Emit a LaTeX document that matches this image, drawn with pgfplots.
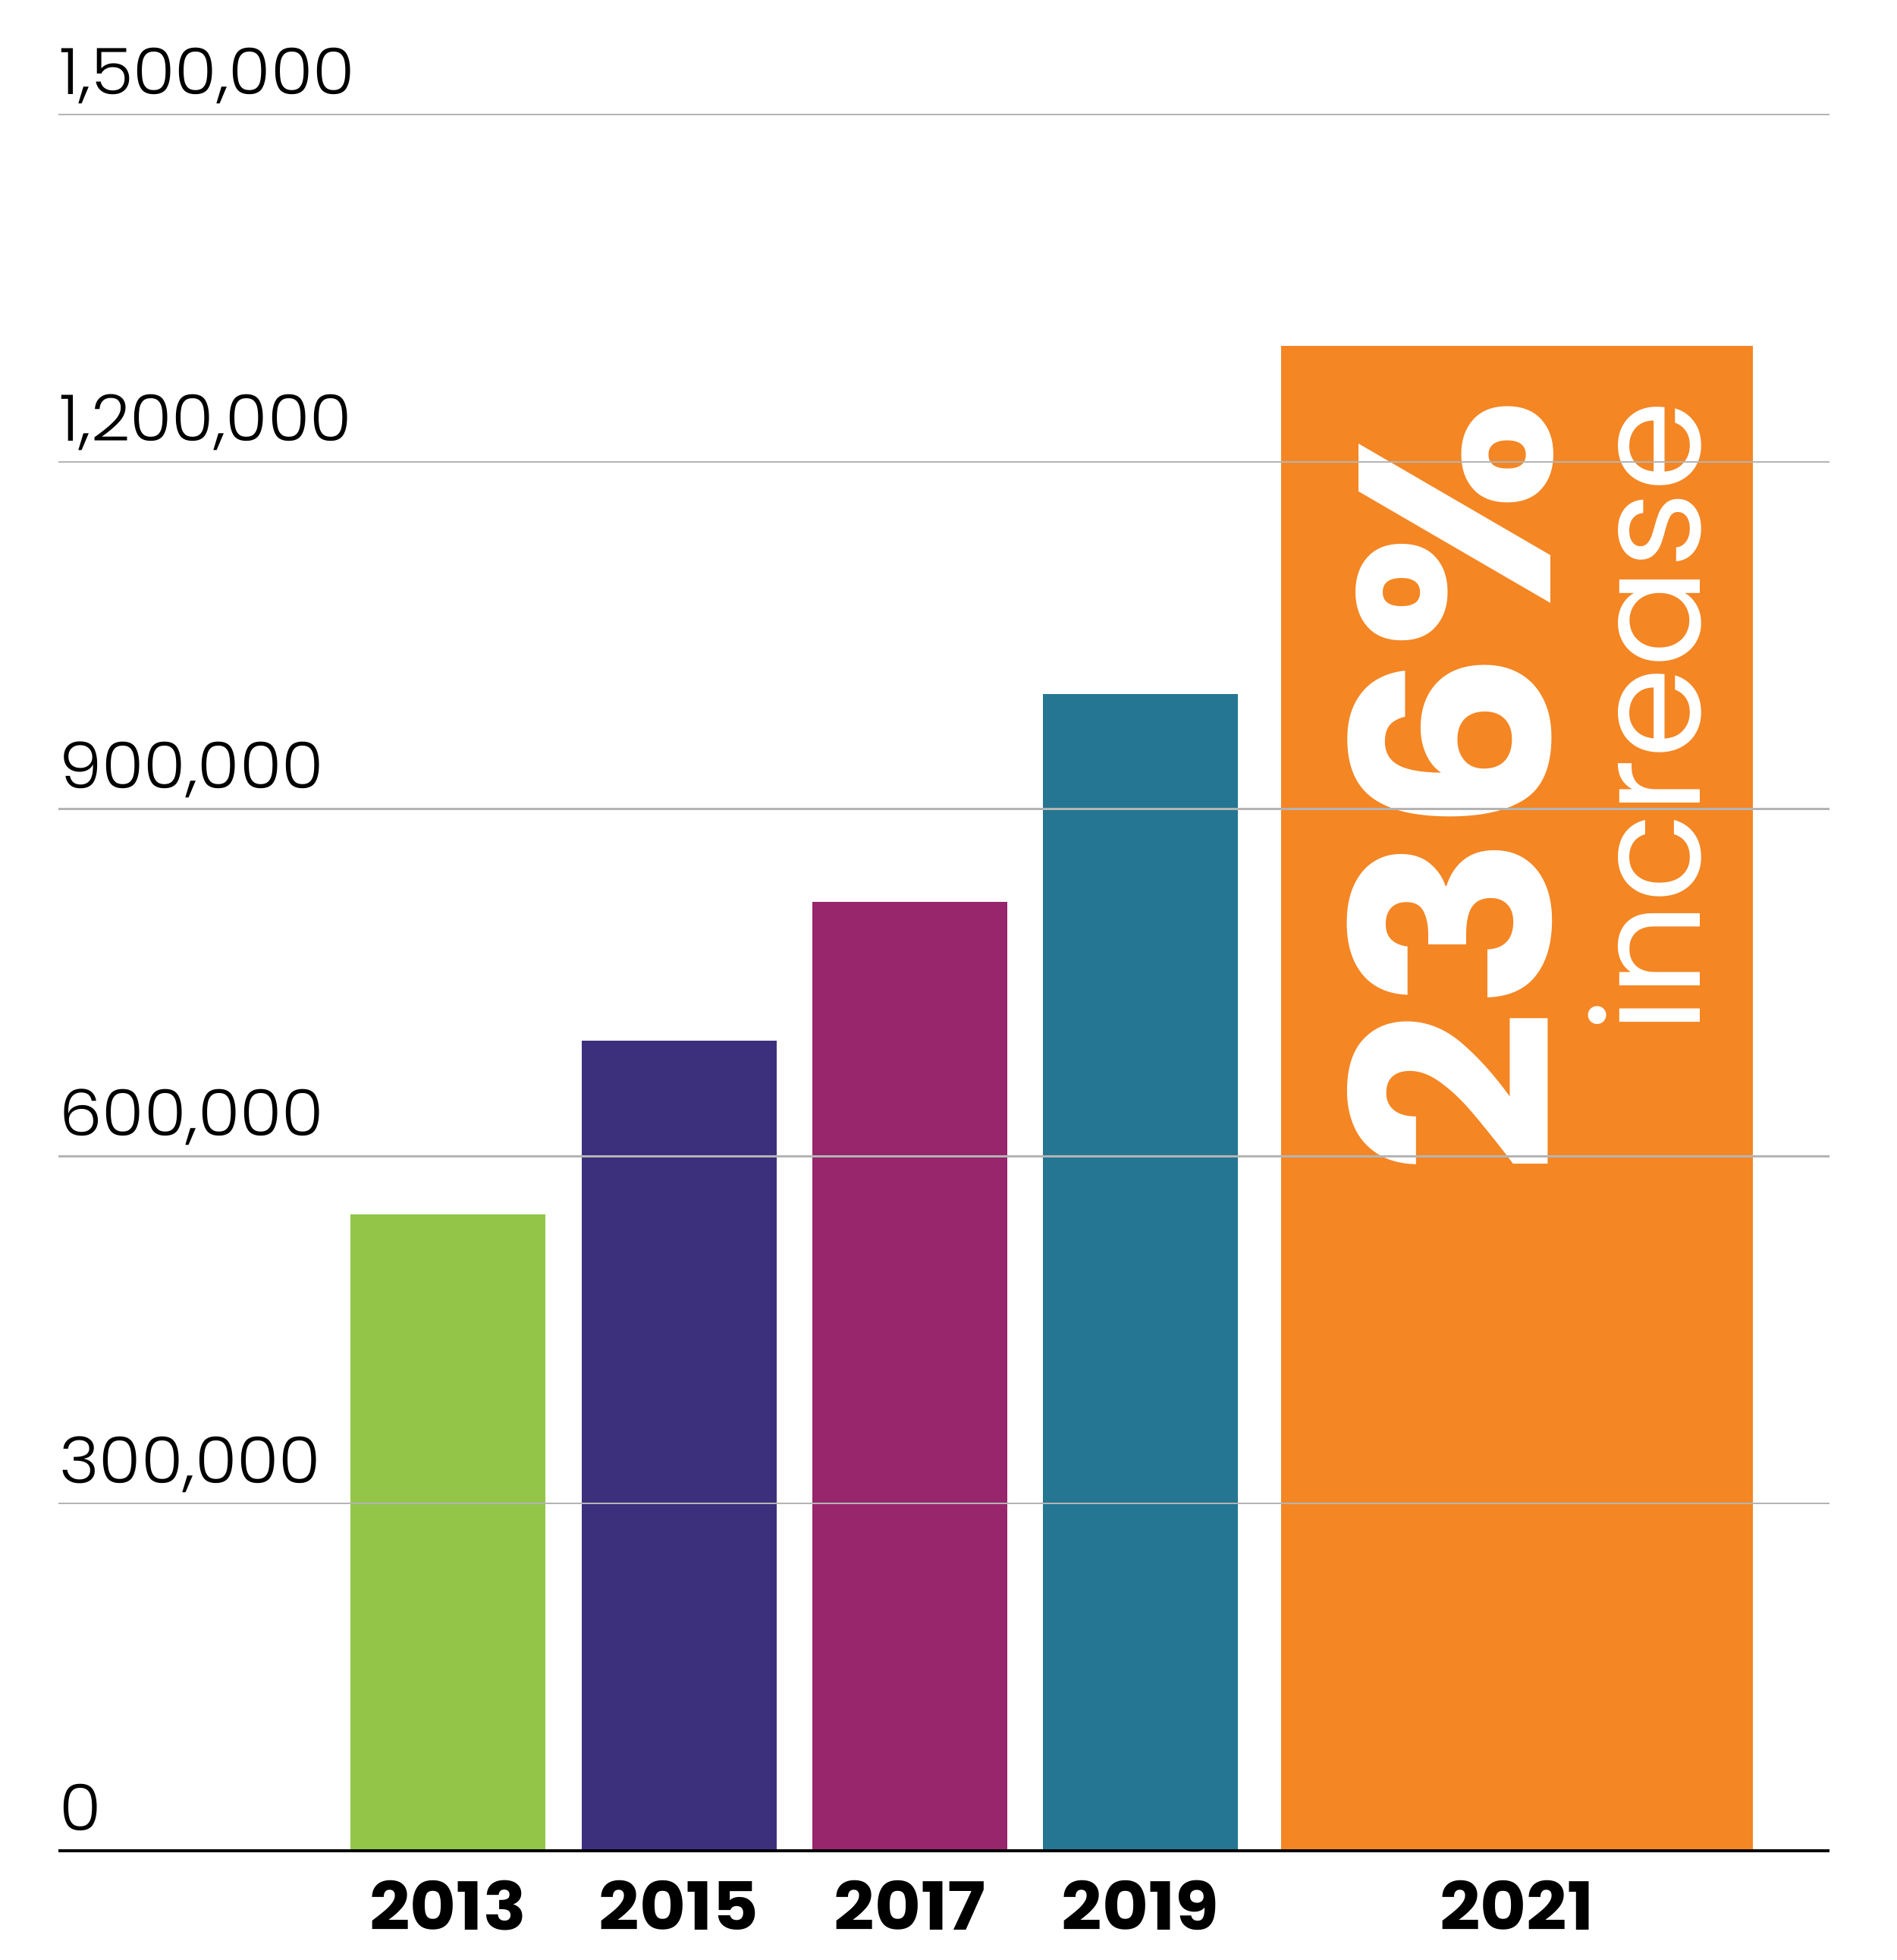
\documentclass[border=0pt]{standalone}
\usepackage{fontspec}
\setmainfont{Poppins}
\newfontfamily\lightfont{Poppins Light}[FakeStretch=1.065]
\newfontfamily\yearfont{Poppins Bold}[FakeStretch=1.07]
\newfontfamily\bigfont{Poppins Bold}[FakeStretch=1.063]
\usepackage{pgfplots}
\pgfplotsset{compat=1.18}

\definecolor{c13}{HTML}{93C648}
\definecolor{c15}{HTML}{3C307D}
\definecolor{c17}{HTML}{97266C}
\definecolor{c19}{HTML}{257693}
\definecolor{c21}{HTML}{F48624}
\definecolor{gridgray}{HTML}{B4B4B4}

\begin{document}
\begin{tikzpicture}
\begin{axis}[
  scale only axis,
  width=373.6pt, height=366.24pt,
  xmin=77, xmax=2412,
  ymin=0, ymax=1500000,
  scaled y ticks=false,
  axis lines*=left,
  y axis line style={draw=none},
  x axis line style={line width=0.75pt, black, -},
  axis on top,
  ymajorgrids,
  grid style={line width=0.37pt, color=gridgray},
  ytick={0,300000,600000,900000,1200000,1500000},
  yticklabels={0,{300,000},{600,000},{900,000},{1,200,000},{1,500,000}},
  yticklabel style={font=\lightfont\fontsize{13.5}{15}\selectfont, anchor=base west, inner xsep=0pt, yshift=4.3pt},
  xtick={590.5,895,1199.5,1503.5,2000},
  xticklabels={2013,2015,2017,2019,2021},
  xticklabel style={font=\yearfont\fontsize{14}{16}\selectfont, anchor=base, yshift=-16.8pt},
  major tick length=0pt,
  tick style={draw=none},
  ybar, bar shift=0pt,
  clip=false,
]
% 2013 to 2021
\addplot[fill=c13, draw=none, bar width=257] coordinates {(590.5,550000)};
\addplot[fill=c15, draw=none, bar width=257] coordinates {(895,700000)};
\addplot[fill=c17, draw=none, bar width=257] coordinates {(1199.5,820000)};
\addplot[fill=c19, draw=none, bar width=257] coordinates {(1503.5,999000)};
\addplot[fill=c21, draw=none, bar width=622] coordinates {(2000,1300000)};

\node[rotate=90, anchor=base east, inner sep=0pt, text=white, font=\bigfont\fontsize{57.5}{58}\selectfont] at (axis cs:2044,1256000) {236\%};
\node[rotate=90, anchor=base east, inner sep=0pt, text=white, font=\fontsize{31}{31}\selectfont] at (axis cs:2241,1253500) {increase};
\end{axis}
\pgfresetboundingbox
\path ([xshift=-12.32pt,yshift=-23.04pt]current axis.south west) rectangle ([xshift=14.08pt,yshift=24.16pt]current axis.north east);
\end{tikzpicture}
\end{document}
